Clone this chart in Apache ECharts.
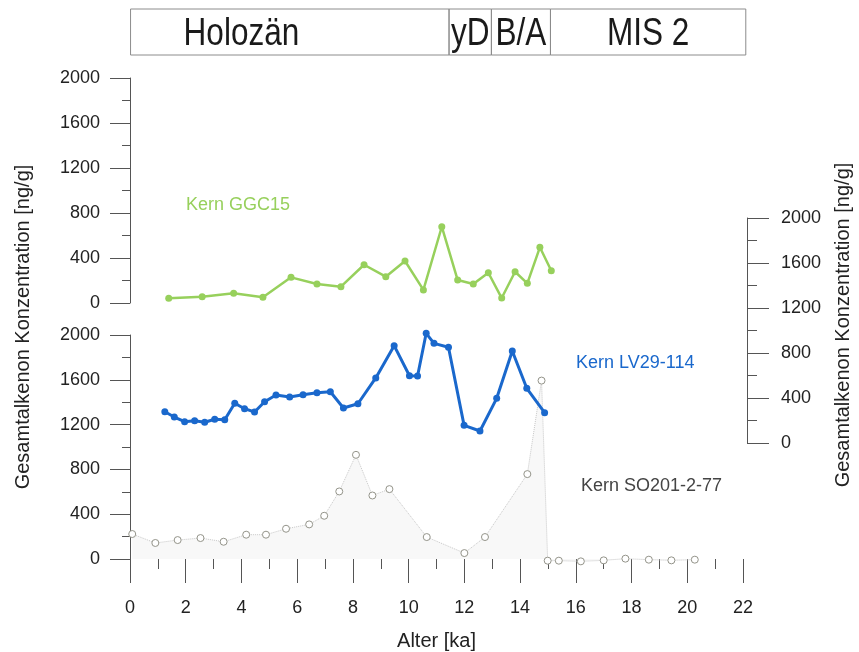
<!DOCTYPE html>
<html>
<head>
<meta charset="utf-8">
<script src="https://cdn.jsdelivr.net/npm/echarts@6/dist/echarts.min.js"></script>
<style>
  html, body { margin: 0; padding: 0; background: #fff; }
  #chart { width: 859px; height: 652px; }
</style>
</head>
<body>
<div id="chart"></div>
<script>
// Core GGC15 (top panel): age [ka] and total alkenone concentration [ng/g]
const ggcAge  = [1.39, 2.59, 3.72, 4.77, 5.78, 6.71, 7.57, 8.40, 9.18, 9.87, 10.53, 11.19, 11.76, 12.32, 12.86, 13.34, 13.82, 14.26, 14.71, 15.12];
const ggcConc = [42, 56, 86, 51, 228, 169, 145, 340, 234, 373, 116, 678, 204, 169, 269, 44, 278, 175, 495, 287];

// Core LV29-114 (right-hand scale)
const lvAge  = [1.25, 1.59, 1.96, 2.32, 2.68, 3.04, 3.40, 3.76, 4.11, 4.47, 4.83, 5.24, 5.73, 6.21, 6.71, 7.19, 7.66, 8.18, 8.82, 9.48, 10.03, 10.32, 10.63, 10.91, 11.43, 11.99, 12.56, 13.16, 13.72, 14.24, 14.88];
const lvConc = [278, 231, 189, 198, 184, 211, 207, 353, 305, 276, 367, 427, 409, 429, 447, 456, 311, 349, 578, 865, 598, 596, 975, 886, 851, 157, 107, 397, 818, 486, 269];

// Core SO201-2-77 (lower left scale)
const soAge  = [0.08, 0.91, 1.71, 2.53, 3.36, 4.17, 4.88, 5.60, 6.43, 6.97, 7.51, 8.11, 8.70, 9.31, 10.65, 12.00, 12.74, 14.26, 14.77, 14.99, 15.39, 16.18, 17.00, 17.78, 18.62, 19.43, 20.27];
const soConc = [223, 143, 169, 187, 154, 217, 217, 270, 309, 386, 603, 930, 567, 624, 196, 53, 196, 758, 1593, -15, -15, -21, -12, 3, -6, -12, -6];

// Climate stages along the top of the figure
const epochNames = ['Holozän', 'yD', 'B/A', 'MIS 2'];
const epochStart = [0.02, 11.45, 12.97, 15.09];
const epochEnd   = [11.45, 12.97, 15.09, 22.1];

// Axis settings
const ageMin = 0, ageMax = 22, ageStep = 2;
const concMin = 0, concMax = 2000, concStep = 400;

const axisTitle = 'Gesamtalkenon Konzentration [ng/g]';
const ageTitle = 'Alter [ka]';
const coreLabels = ['Kern GGC15', 'Kern LV29-114', 'Kern SO201-2-77'];

const FONT = '"Liberation Sans", Arial, Helvetica, sans-serif';
const INK = '#222';
const AXIS = '#555';
const GREEN = '#97d05c';
const BLUE = '#1a68cc';

const zip = (a, b) => a.map((v, i) => [v, b[i]]);

// where each stage name sits along the age axis
const epochLabelAt = epochStart.map((s, i) => i === 0 ? 4.0 : (s + epochEnd[i]) / 2);
const epochRows = epochNames.map((n, i) => [epochStart[i], epochEnd[i], epochLabelAt[i]]);

const plainNumber = v => String(v);

function concAxis(gridIndex, position, extra) {
  return Object.assign({
    type: 'value', gridIndex, position,
    min: concMin, max: concMax, interval: concStep,
    axisLine: { show: true, onZero: false, lineStyle: { color: AXIS, width: 1 } },
    axisTick: { show: true, inside: false, length: 20, lineStyle: { color: AXIS, width: 1 } },
    minorTick: { show: true, splitNumber: 2, length: 8, lineStyle: { color: AXIS, width: 1 } },
    splitLine: { show: false },
    axisLabel: { color: INK, fontFamily: FONT, fontSize: 18, margin: 30, formatter: plainNumber }
  }, extra || {});
}

function hiddenAge(gridIndex) {
  return { type: 'value', gridIndex, min: ageMin, max: ageMax, show: false,
           axisLine: { onZero: false } };
}

const chart = echarts.init(document.getElementById('chart'), null, { renderer: 'canvas' });

chart.setOption({
  animation: false,
  backgroundColor: '#fff',
  grid: [
    { left: 130, top: 78, width: 613, height: 225 },     // GGC15 panel
    { left: 130, top: 335, width: 613, height: 224.5 },  // SO201-2-77 panel + age axis
    { left: 130, top: 218, width: 613, height: 225 },    // LV29-114 right-hand scale
    { left: 130, top: 9, width: 613, height: 46 }        // stage bar
  ],
  xAxis: [
    hiddenAge(0),
    {
      type: 'value', gridIndex: 1, min: ageMin, max: ageMax, interval: ageStep,
      axisLine: { show: false, onZero: false },
      axisTick: { show: true, length: 24, lineStyle: { color: AXIS, width: 1 } },
      minorTick: { show: true, splitNumber: 2, length: 10, lineStyle: { color: AXIS, width: 1 } },
      splitLine: { show: false },
      axisLabel: { color: INK, fontFamily: FONT, fontSize: 18, margin: 40 },
      name: ageTitle, nameLocation: 'middle', nameGap: 72,
      nameTextStyle: { color: INK, fontFamily: FONT, fontSize: 20 }
    },
    hiddenAge(2),
    hiddenAge(3)
  ],
  yAxis: [
    concAxis(0, 'left'),
    concAxis(1, 'left'),
    concAxis(2, 'right', {
      offset: 4,
      axisTick: { show: true, length: 22, lineStyle: { color: AXIS, width: 1 } },
      minorTick: { show: true, splitNumber: 2, length: 10, lineStyle: { color: AXIS, width: 1 } },
      axisLabel: { color: INK, fontFamily: FONT, fontSize: 18, margin: 34, formatter: plainNumber }
    }),
    { type: 'value', gridIndex: 3, min: 0, max: 1, show: false, axisLine: { onZero: false } }
  ],
  graphic: [
    { type: 'text', x: 23, y: 327, rotation: Math.PI / 2,
      style: { text: axisTitle, font: '20px ' + FONT, fill: INK, align: 'center', verticalAlign: 'middle' } },
    { type: 'text', x: 843, y: 325, rotation: Math.PI / 2,
      style: { text: axisTitle, font: '20px ' + FONT, fill: INK, align: 'center', verticalAlign: 'middle' } },
    { type: 'text', x: 186, y: 205,
      style: { text: coreLabels[0], font: '18px ' + FONT, fill: GREEN, align: 'left', verticalAlign: 'middle' } },
    { type: 'text', x: 576, y: 363,
      style: { text: coreLabels[1], font: '18px ' + FONT, fill: BLUE, align: 'left', verticalAlign: 'middle' } },
    { type: 'text', x: 581, y: 486,
      style: { text: coreLabels[2], font: '18px ' + FONT, fill: '#444', align: 'left', verticalAlign: 'middle' } }
  ],
  series: [
    {
      name: coreLabels[2], type: 'line', xAxisIndex: 1, yAxisIndex: 1,
      data: zip(soAge, soConc), clip: false,
      symbol: 'circle', symbolSize: 7, showAllSymbol: true,
      itemStyle: { color: '#fff', borderColor: '#94948a', borderWidth: 1 },
      lineStyle: { color: '#c8c8c8', width: 1, type: 'dotted' },
      areaStyle: { color: 'rgba(205,205,205,0.2)', origin: 0 },
      z: 2
    },
    {
      name: coreLabels[1], type: 'line', xAxisIndex: 2, yAxisIndex: 2,
      data: zip(lvAge, lvConc),
      symbol: 'circle', symbolSize: 7, showAllSymbol: true,
      itemStyle: { color: BLUE },
      lineStyle: { color: BLUE, width: 3 },
      z: 4
    },
    {
      name: coreLabels[0], type: 'line', xAxisIndex: 0, yAxisIndex: 0,
      data: zip(ggcAge, ggcConc),
      symbol: 'circle', symbolSize: 7, showAllSymbol: true,
      itemStyle: { color: GREEN },
      lineStyle: { color: GREEN, width: 2.5 },
      z: 4
    },
    {
      type: 'custom', xAxisIndex: 3, yAxisIndex: 3, clip: false,
      data: epochRows,
      renderItem: function (params, api) {
        const i = params.dataIndex;
        const p0 = api.coord([api.value(0), 1]);
        const p1 = api.coord([api.value(1), 0]);
        const c = api.coord([api.value(2), 0.5]);
        return {
          type: 'group',
          children: [
            { type: 'rect',
              shape: { x: p0[0], y: p0[1], width: p1[0] - p0[0], height: p1[1] - p0[1] },
              style: { fill: 'none', stroke: '#8c8c8c', lineWidth: 1 } },
            { type: 'text', x: c[0], y: c[1] + 3, scaleX: 0.83, scaleY: 1,
              style: { text: epochNames[i], font: '38px ' + FONT, fill: '#1a1a1a',
                       align: 'center', verticalAlign: 'middle' } }
          ]
        };
      }
    }
  ]
});
</script>
</body>
</html>
